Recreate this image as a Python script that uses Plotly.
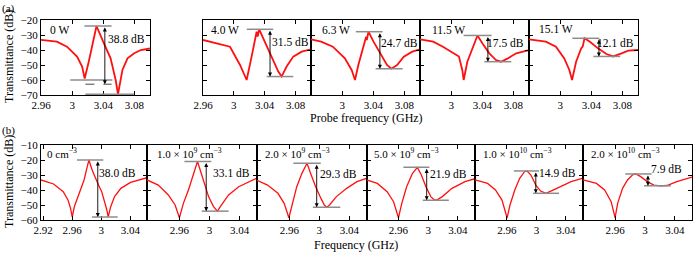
import plotly.graph_objects as go

# ---------------- data: (a) probe-power dependence ----------------
top_labels = ["0 W", "4.0 W", "6.3 W", "11.5 W", "15.1 W"]
top_gap_db = [38.8, 31.5, 24.7, 17.5, 12.1]

f_0W = [2.960, 2.970, 2.9804, 2.9933, 3.0063, 3.0128, 3.0161, 3.0213, 3.0257, 3.0313,
        3.0408, 3.0494, 3.0559, 3.0589, 3.0646, 3.0711, 3.0797, 3.0883, 3.100]
T_0W = [-33.3, -33.8, -34.4, -37.8, -44.4, -51.0, -59.0, -47.8, -36.7, -24.0,
        -35.6, -45.6, -60.0, -69.5, -53.3, -45.6, -42.2, -40.0, -39.0]

f_4W = [2.960, 2.977, 2.995, 3.008, 3.0166, 3.023, 3.0273, 3.0295, 3.0308, 3.0329,
        3.0381, 3.0446, 3.0511, 3.0576, 3.0619, 3.0684, 3.0770, 3.0879, 3.100]
T_4W = [-33.3, -35.6, -37.8, -50.0, -60.0, -44.4, -32.2, -27.8, -31.0, -26.2,
        -32.2, -40.0, -47.8, -54.4, -57.7, -51.0, -44.4, -41.1, -39.5]

f_63W = [2.960, 2.973, 2.988, 3.0035, 3.0122, 3.0165, 3.0208, 3.0273, 3.0308, 3.0317,
         3.0338, 3.0403, 3.0490, 3.0576, 3.0632, 3.0706, 3.0792, 3.0901, 3.100]
T_63W = [-32.9, -34.4, -37.8, -45.6, -53.3, -60.0, -50.0, -36.7, -31.1, -33.3,
         -27.8, -34.4, -42.2, -50.0, -52.5, -50.0, -44.4, -41.1, -39.5]

f_115W = [2.960, 2.977, 2.990, 3.010, 3.0143, 3.0161, 3.0208, 3.0273, 3.0308, 3.0338,
          3.0403, 3.0490, 3.0576, 3.0641, 3.0727, 3.0836, 3.100]
T_115W = [-32.9, -34.4, -38.0, -44.4, -53.3, -60.0, -47.8, -38.9, -33.3, -30.3,
          -35.6, -42.2, -46.7, -47.8, -45.6, -42.2, -40.0]

f_151W = [2.960, 2.9816, 2.9946, 3.0053, 3.0118, 3.0153, 3.0205, 3.0270, 3.0291, 3.0313,
          3.0378, 3.0486, 3.0594, 3.0681, 3.0789, 3.0875, 3.100]
T_151W = [-32.9, -34.4, -37.8, -45.6, -53.3, -60.0, -47.8, -38.9, -37.5, -32.2,
          -34.4, -38.9, -42.7, -44.3, -42.2, -40.4, -40.0]

top_f = [f_0W, f_4W, f_63W, f_115W, f_151W]
top_T = [T_0W, T_4W, T_63W, T_115W, T_151W]

# ---------------- data: (b) plasma-density dependence ----------------
bot_labels = ["0 cm<sup>−3</sup>",
              "1.0 × 10<sup>9</sup> cm<sup>−3</sup>",
              "2.0 × 10<sup>9</sup> cm<sup>−3</sup>",
              "5.0 × 10<sup>9</sup> cm<sup>−3</sup>",
              "1.0 × 10<sup>10</sup> cm<sup>−3</sup>",
              "2.0 × 10<sup>10</sup> cm<sup>−3</sup>"]
bot_gap_db = [38.0, 33.1, 29.3, 21.9, 14.9, 7.9]

f_n0 = [2.917, 2.9343, 2.9476, 2.9542, 2.9577, 2.960, 2.963, 2.9697, 2.9763, 2.9807, 2.983,
        2.9874, 2.9918, 2.9962, 3.0006, 3.0051, 3.0077, 3.0095, 3.013, 3.0183, 3.027, 3.0403, 3.063]
T_n0 = [-33.3, -36.0, -41.1, -46.7, -52.2, -58.0, -51.0, -42.2, -33.3, -24.4, -20.0,
        -26.7, -32.2, -36.7, -41.1, -47.8, -53.3, -58.0, -51.1, -44.4, -38.9, -34.9, -31.8]

f_n1 = [2.917, 2.932, 2.9453, 2.9543, 2.960, 2.9653, 2.972, 2.9787, 2.984, 2.9876,
        2.992, 2.9987, 3.0053, 3.0105, 3.0143, 3.0253, 3.0387, 3.063]
T_n1 = [-33.3, -36.7, -43.3, -50.0, -58.5, -48.9, -40.0, -28.9, -21.0, -26.7,
        -34.4, -44.4, -51.1, -54.1, -51.1, -43.3, -37.8, -32.0]

f_n2 = [2.917, 2.9311, 2.9449, 2.9532, 2.9595, 2.9640, 2.970, 2.9769, 2.9837, 2.9884,
        2.9952, 3.0023, 3.0068, 3.010, 3.0137, 3.0229, 3.0366, 3.0503, 3.063]
T_n2 = [-33.5, -36.7, -42.2, -48.9, -58.5, -48.9, -37.8, -28.9, -22.2, -28.9,
        -37.8, -45.6, -50.0, -51.5, -50.0, -44.4, -38.9, -34.4, -32.2]

f_n5 = [2.917, 2.9316, 2.9448, 2.9534, 2.960, 2.9645, 2.971, 2.9789, 2.9855, 2.9908,
        2.997, 3.0035, 3.008, 3.011, 3.019, 3.032, 3.0495, 3.063]
T_n5 = [-33.3, -35.6, -41.1, -47.8, -58.5, -48.9, -37.8, -28.9, -24.9, -30.0,
        -37.8, -44.4, -46.5, -46.8, -44.4, -38.9, -34.4, -32.5]

f_n10 = [2.917, 2.934, 2.9447, 2.9535, 2.9604, 2.9643, 2.9708, 2.9774, 2.984, 2.9874,
         2.9926, 2.9992, 3.0057, 3.013, 3.021, 3.034, 3.047, 3.063]
T_n10 = [-33.3, -35.6, -40.0, -46.7, -58.7, -50.0, -40.0, -32.2, -27.8, -27.3,
         -30.0, -36.7, -40.7, -42.2, -40.4, -37.3, -34.4, -32.0]

f_n20 = [2.917, 2.935, 2.946, 2.9547, 2.960, 2.9634, 2.970, 2.9766, 2.9832, 2.9877,
         2.9943, 3.003, 3.0119, 3.0207, 3.0294, 3.0426, 3.063]
T_n20 = [-33.3, -35.6, -40.0, -47.8, -58.5, -48.9, -38.9, -33.3, -30.0, -29.3,
         -31.1, -34.4, -36.7, -37.2, -37.0, -34.4, -31.4]

bot_f = [f_n0, f_n1, f_n2, f_n5, f_n10, f_n20]
bot_T = [T_n0, T_n1, T_n2, T_n5, T_n10, T_n20]

# ---------------- layout helpers ----------------
W, H = 698, 253
def px(x):
    return x / W
def py(y):
    return 1 - y / H

FONT = "Liberation Serif, Times New Roman, serif"
RED = "#ff1010"
GRAY = "#8c8c8c"

top_dom = [(41, 150), (203, 311), (311, 420), (420, 529), (529, 638)]
bot_dom = [(41, 147), (147, 257), (257, 366.5), (366.5, 475), (475, 583), (583, 692)]
top_y = (20, 95)
bot_y = (145, 220)

top_xtick_vals = [[2.96, 3.0, 3.04, 3.08], [2.96, 3.0, 3.04, 3.08], [3.0, 3.04, 3.08],
                  [3.0, 3.04, 3.08], [3.0, 3.04, 3.08]]
bot_xtick_vals = [[2.92, 2.96, 3.0, 3.04]] + [[2.96, 3.0, 3.04]] * 5

# annotation geometry (layout positions)
top_arrow_x = [3.042, 3.0469, 3.0485, 3.0472, 3.0498]
top_peakline = [(3.0157, 3.0507), (3.0167, 3.0511), (3.0175, 3.052), (3.016, 3.052), (3.0157, 3.0503)]
top_dipline = [(3.017, 3.0793), (3.0426, 3.077), (3.043, 3.0776), (3.0426, 3.0772), (3.0426, 3.0772)]
top_text_xy = [(3.070, -32.7), (3.0728, -34.5), (3.074, -35.1), (3.0703, -35.1), (3.0711, -35.1)]
top_label_px = [(48, 30), (209, 30), (320, 30), (430, 30), (536.7, 29.3)]

bot_arrow_x = [2.9952, 2.9956, 2.9966, 2.998, 2.9992, 3.004]
bot_peakline = [(2.9666, 3.0028), (2.9667, 3.0023), (2.9655, 3.002), (2.9666, 3.0016), (2.9695, 3.0035), (2.9736, 3.0088)]
bot_dipline = [(2.9873, 3.0226), (2.9897, 3.0253), (2.9915, 3.028), (2.9928, 3.0278), (2.9957, 3.0306), (2.9987, 3.0347)]
bot_text_xy = [(3.023, -28.5), (3.029, -28.5), (3.0255, -29.5), (3.0268, -29.5), (3.0286, -28.9), (3.0286, -26.2)]
bot_label_px = [(45, 153), (155, 153), (263.3, 153), (371.7, 153), (480.7, 153), (589.3, 153)]

fig = go.Figure()
layout = dict(width=W, height=H, margin=dict(l=0, r=0, t=0, b=0, pad=0, autoexpand=False),
              paper_bgcolor="white", plot_bgcolor="white", showlegend=False,
              font=dict(family=FONT, size=11, color="black"))
shapes = []
annotations = []

def axis_common():
    return dict(showline=True, linecolor="black", linewidth=1, mirror="ticks",
                ticks="inside", ticklen=4, tickcolor="black", tickwidth=1,
                showgrid=False, zeroline=False, fixedrange=True, automargin=False,
                tickfont=dict(family=FONT, size=11, color="black"))

def fmt(v):
    s = f"{v:.2f}".rstrip("0").rstrip(".")
    return s

def add_panel(idx, dom, ydom, xr, yr, xt, ytv, show_y, fx, Ty, lw):
    n = "" if idx == 1 else str(idx)
    xa = axis_common()
    xa.update(domain=[px(dom[0]), px(dom[1])], range=xr, anchor="y" + n,
              tickvals=xt, ticktext=[fmt(v) for v in xt])
    ya = axis_common()
    ya.update(domain=[py(ydom[1]), py(ydom[0])], range=yr, anchor="x" + n,
              tickvals=ytv, showticklabels=show_y)
    layout["xaxis" + n] = xa
    layout["yaxis" + n] = ya
    fig.add_trace(go.Scatter(x=fx, y=Ty, mode="lines", xaxis="x" + n, yaxis="y" + n,
                             line=dict(color=RED, width=lw), hoverinfo="skip"))
    return "x" + n, "y" + n

def add_gap(xr_, yr_, peak, gap, arrow_x, pl, dl, txy):
    dip = peak - gap
    shapes.append(dict(type="line", xref=xr_, yref=yr_, x0=pl[0], x1=pl[1], y0=peak, y1=peak,
                       line=dict(color=GRAY, width=1.5)))
    shapes.append(dict(type="line", xref=xr_, yref=yr_, x0=dl[0], x1=dl[1], y0=dip, y1=dip,
                       line=dict(color=GRAY, width=1.5)))
    annotations.append(dict(xref=xr_, yref=yr_, axref=xr_, ayref=yr_, x=arrow_x, y=dip,
                            ax=arrow_x, ay=peak, text="", showarrow=True, arrowhead=2,
                            arrowside="end+start", arrowsize=0.9, arrowwidth=0.9,
                            arrowcolor="black", standoff=0, startstandoff=0))
    annotations.append(dict(xref=xr_, yref=yr_, x=txy[0], y=txy[1], text=f"{gap:.1f} dB",
                            showarrow=False, xanchor="center", yanchor="middle",
                            font=dict(family=FONT, size=11.5, color="black")))

# top row
for i in range(5):
    xr_, yr_ = add_panel(i + 1, top_dom[i], top_y, [2.96, 3.1], [-70, -20], top_xtick_vals[i],
                         [-70, -60, -50, -40, -30, -20], i == 0, top_f[i], top_T[i], 1.8)
    peak = max(top_T[i])
    add_gap(xr_, yr_, peak, top_gap_db[i], top_arrow_x[i], top_peakline[i],
            top_dipline[i], top_text_xy[i])
    annotations.append(dict(xref="paper", yref="paper", x=px(top_label_px[i][0]),
                            y=py(top_label_px[i][1]), text=top_labels[i], showarrow=False,
                            xanchor="left", yanchor="middle",
                            font=dict(family=FONT, size=11.5, color="black")))
    if i == 0:
        # extra reference levels in the 0 W panel
        dip1 = sorted(top_T[0])[1]
        dip2 = min(top_T[0])
        shapes.append(dict(type="line", xref=xr_, yref=yr_, x0=2.9976, x1=3.0517,
                           y0=dip1, y1=dip1, line=dict(color=GRAY, width=1.5)))
        shapes.append(dict(type="line", xref=xr_, yref=yr_, x0=3.017, x1=3.0793,
                           y0=dip2, y1=dip2, line=dict(color=GRAY, width=1.5)))
        shapes[-3]["line"] = dict(color="#333333", width=0.9, dash="dash")
        shapes[-3]["x1"] = 3.0507

# bottom row
for j in range(6):
    xr_, yr_ = add_panel(6 + j, bot_dom[j], bot_y, [2.917, 3.063], [-60, -10], bot_xtick_vals[j],
                         [-60, -50, -40, -30, -20, -10], j == 0, bot_f[j], bot_T[j], 1.3)
    peak = max(bot_T[j])
    add_gap(xr_, yr_, peak, bot_gap_db[j], bot_arrow_x[j], bot_peakline[j],
            bot_dipline[j], bot_text_xy[j])
    annotations.append(dict(xref="paper", yref="paper", x=px(bot_label_px[j][0]),
                            y=py(bot_label_px[j][1]), text=bot_labels[j], showarrow=False,
                            xanchor="left", yanchor="middle",
                            font=dict(family=FONT, size=11, color="black")))

# titles and panel letters
annotations += [
    dict(xref="paper", yref="paper", x=px(0), y=py(8), text="(a)", showarrow=False,
         xanchor="left", yanchor="middle", font=dict(family=FONT, size=11)),
    dict(xref="paper", yref="paper", x=px(0), y=py(130), text="(b)", showarrow=False,
         xanchor="left", yanchor="middle", font=dict(family=FONT, size=11)),
    dict(xref="paper", yref="paper", x=px(367), y=py(118), text="Probe frequency (GHz)",
         showarrow=False, xanchor="center", yanchor="middle", font=dict(family=FONT, size=12)),
    dict(xref="paper", yref="paper", x=px(356), y=py(245), text="Frequency (GHz)",
         showarrow=False, xanchor="center", yanchor="middle", font=dict(family=FONT, size=12)),
    dict(xref="paper", yref="paper", x=px(9), y=py(57), text="Transmittance (dB)",
         showarrow=False, textangle=-90, xanchor="center", yanchor="middle",
         font=dict(family=FONT, size=12)),
    dict(xref="paper", yref="paper", x=px(9), y=py(182), text="Transmittance (dB)",
         showarrow=False, textangle=-90, xanchor="center", yanchor="middle",
         font=dict(family=FONT, size=12)),
]

layout["shapes"] = shapes
layout["annotations"] = annotations
fig.update_layout(**layout)
fig.write_html("out.html", config={"displayModeBar": False},
               post_script="document.body.style.margin='0px';document.body.style.padding='0px';")
